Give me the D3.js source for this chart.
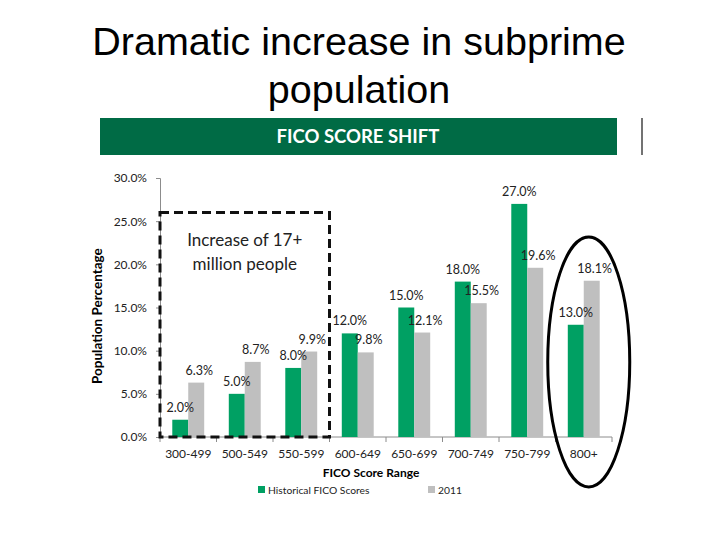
<!DOCTYPE html>
<html>
<head>
<meta charset="utf-8">
<script src="https://cdn.jsdelivr.net/npm/d3@7"></script>
<style>
  body { margin: 0; background: #fff; }
  svg { display: block; }
  .axis text { font-family: Lato, "Noto Sans", sans-serif; fill: #222; }
  .axis path, .axis line { stroke: #8c8c8c; }
</style>
</head>
<body>
<svg id="chart" width="720" height="540"></svg>
<script>
const categories = ["300-499", "500-549", "550-599", "600-649", "650-699", "700-749", "750-799", "800+"];
const historical = [2.0, 5.0, 8.0, 12.0, 15.0, 18.0, 27.0, 13.0];
const year2011 = [6.3, 8.7, 9.9, 9.8, 12.1, 15.5, 19.6, 18.1];
const seriesNames = ["Historical FICO Scores", "2011"];
const yTicks = [0, 5, 10, 15, 20, 25, 30];

const green = "#00a063", grey = "#bfbfbf";
const svg = d3.select("#chart");

// slide title
svg.append("text")
  .attr("x", 359).attr("y", 55)
  .attr("text-anchor", "middle")
  .style("font-family", "'Liberation Sans', Arial, sans-serif")
  .style("font-size", "39.5px")
  .text("Dramatic increase in subprime");
svg.append("text")
  .attr("x", 359).attr("y", 103)
  .attr("text-anchor", "middle")
  .style("font-family", "'Liberation Sans', Arial, sans-serif")
  .style("font-size", "39.5px")
  .text("population");

// green header band
svg.append("rect")
  .attr("x", 100).attr("y", 118).attr("width", 517).attr("height", 37)
  .attr("fill", "#006b45");
svg.append("line")
  .attr("x1", 642).attr("x2", 642).attr("y1", 118).attr("y2", 155)
  .attr("stroke", "#444").attr("stroke-width", 1.5);
svg.append("text")
  .attr("x", 358).attr("y", 143)
  .attr("text-anchor", "middle")
  .attr("fill", "#fff")
  .style("font-family", "Lato, sans-serif")
  .style("font-size", "18.5px")
  .style("font-weight", "bold")
  .text("FICO SCORE SHIFT");

const x0 = d3.scaleBand().domain(categories).range([160, 612]);
const x1 = d3.scaleBand().domain(seriesNames).range([0, x0.bandwidth()]).paddingOuter(0.77);
const y = d3.scaleLinear().domain([0, 30]).range([437, 178]);

// y axis
const yAxis = svg.append("g")
  .attr("class", "axis")
  .attr("transform", "translate(160,0)")
  .call(d3.axisLeft(y).tickValues(yTicks).tickSize(4).tickPadding(9).tickFormat(d => d.toFixed(1) + "%"));
yAxis.selectAll("text").style("font-size", "12px");

// x axis
const xAxis = svg.append("g")
  .attr("class", "axis")
  .attr("transform", "translate(0,437)")
  .call(d3.axisBottom(x0).tickSize(0).tickPadding(12).tickSizeOuter(0));
xAxis.selectAll("text").style("font-size", "12px");
xAxis.select(".domain").attr("d", "M160,0H612");
xAxis.selectAll(".bound")
  .data(categories.concat(["end"]))
  .join("line")
  .attr("class", "bound")
  .attr("x1", (d, i) => i < categories.length ? x0(d) : x0.range()[1])
  .attr("x2", (d, i) => i < categories.length ? x0(d) : x0.range()[1])
  .attr("y1", 0).attr("y2", 5);

// bars
const groups = svg.append("g").selectAll("g")
  .data(categories)
  .join("g")
  .attr("transform", d => "translate(" + x0(d) + ",0)");

const rows = (d, i) => [
  { key: seriesNames[0], v: historical[i], c: green },
  { key: seriesNames[1], v: year2011[i], c: grey }
];

groups.selectAll("rect")
  .data(rows)
  .join("rect")
  .attr("x", d => x1(d.key))
  .attr("y", d => y(d.v))
  .attr("width", x1.bandwidth())
  .attr("height", d => y(0) - y(d.v))
  .attr("fill", d => d.c);

groups.selectAll("text")
  .data(rows)
  .join("text")
  .attr("x", d => x1(d.key) + x1.bandwidth() / 2 + (d.key == "2011" ? 3 : 0))
  .attr("y", d => y(d.v) - 8)
  .attr("text-anchor", "middle")
  .style("font-family", "Lato, sans-serif")
  .style("font-size", "12.5px")
  .style("fill", "#222")
  .text(d => d.v.toFixed(1) + "%");

// axis titles
svg.append("text")
  .attr("transform", "translate(102," + y(14) + ") rotate(-90)")
  .attr("text-anchor", "middle")
  .style("font-family", "Lato, sans-serif")
  .style("font-size", "13.5px")
  .style("font-weight", "bold")
  .text("Population Percentage");
svg.append("text")
  .attr("x", 371).attr("y", 477)
  .attr("text-anchor", "middle")
  .style("font-family", "Lato, sans-serif")
  .style("font-size", "12px")
  .style("font-weight", "bold")
  .text("FICO Score Range");

// legend
const legend = svg.append("g");
const legendX = [258, 428];
seriesNames.forEach(function(s, i) {
  legend.append("rect")
    .attr("x", legendX[i]).attr("y", 486).attr("width", 7).attr("height", 7)
    .attr("fill", i == 0 ? green : grey);
  legend.append("text")
    .attr("x", legendX[i] + 10).attr("y", 494)
    .style("font-family", "Lato, sans-serif")
    .style("font-size", "10.3px")
    .style("fill", "#222")
    .text(s);
});

// dashed box around subprime ranges
const boxLeft = x0(categories[0]), boxRight = x0(categories[2]) + x0.bandwidth();
svg.append("rect")
  .attr("x", boxLeft).attr("y", y(26))
  .attr("width", boxRight - boxLeft).attr("height", y(0) - y(26))
  .attr("fill", "none")
  .attr("stroke", "#111").attr("stroke-width", 3)
  .attr("stroke-dasharray", "9,5");
svg.append("text")
  .attr("x", (boxLeft + boxRight) / 2).attr("y", 246)
  .attr("text-anchor", "middle")
  .style("font-family", "Lato, sans-serif")
  .style("font-size", "17px")
  .style("fill", "#222")
  .text("Increase of 17+");
svg.append("text")
  .attr("x", (boxLeft + boxRight) / 2).attr("y", 270)
  .attr("text-anchor", "middle")
  .style("font-family", "Lato, sans-serif")
  .style("font-size", "17px")
  .style("fill", "#222")
  .text("million people");

// ellipse around 800+
svg.append("ellipse")
  .attr("cx", x0("800+") + x0.bandwidth() / 2 + 5)
  .attr("cy", 362)
  .attr("rx", 41).attr("ry", 125)
  .attr("fill", "none")
  .attr("stroke", "#000").attr("stroke-width", 3);
</script>
</body>
</html>
